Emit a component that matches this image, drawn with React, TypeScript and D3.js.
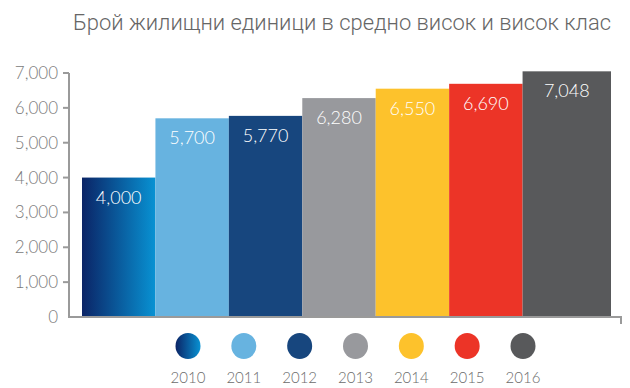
import React, { useEffect, useRef } from 'react';
import * as d3 from 'd3';

const title = 'Брой жилищни единици в средно висок и висок клас';
const years = ['2010', '2011', '2012', '2013', '2014', '2015', '2016'];
const values = [4000, 5700, 5770, 6280, 6550, 6690, 7048];
const colors = ['url(#grad2010)', '#67b3e0', '#17467e', '#98999d', '#fdc22c', '#ec3427', '#58595b'];
const yTicks = [0, 1000, 2000, 3000, 4000, 5000, 6000, 7000];

function App() {
  const svgRef = useRef<SVGSVGElement>(null);

  useEffect(() => {
    const svg = d3.select(svgRef.current);
    svg.selectAll('*').remove();

    const axisX = 69;
    const baseY = 317;
    const plotRight = 611;

    const defs = svg.append('defs');
    const grad = defs.append('linearGradient').attr('id', 'grad2010')
      .attr('x1', '0%').attr('x2', '100%').attr('y1', '0%').attr('y2', '0%');
    grad.append('stop').attr('offset', '0%').attr('stop-color', '#0b2466');
    grad.append('stop').attr('offset', '100%').attr('stop-color', '#0892d3');

    const y = d3.scaleLinear().domain([0, 7000]).range([baseY, 73]);
    const x = d3.scaleBand().domain(years).range([82, 596]).padding(0);

    // title
    svg.append('text')
      .attr('x', 73).attr('y', 30)
      .attr('font-family', 'Roboto').attr('font-weight', 300)
      .attr('font-size', 22).attr('fill', '#666')
      .attr('textLength', 538).attr('lengthAdjust', 'spacingAndGlyphs')
      .text(title);

    // bars
    const bars = svg.append('g');
    years.forEach((yr, i) => {
      const x0 = x(yr)!;
      const w = i === years.length - 1 ? plotRight - x0 : x.bandwidth();
      bars.append('rect')
        .attr('x', x0).attr('y', y(values[i]))
        .attr('width', w).attr('height', baseY - y(values[i]))
        .attr('fill', colors[i]);
      bars.append('text')
        .attr('x', x0 + w / 2).attr('y', y(values[i]) + 26)
        .attr('text-anchor', 'middle')
        .attr('font-family', 'Lato').attr('font-weight', 300).attr('font-size', 18)
        .attr('fill', '#fff')
        .text(d3.format(',')(values[i]));
    });

    // axes
    const ax = svg.append('g').attr('stroke', '#9a9a9a').attr('stroke-width', 2).attr('fill', 'none');
    ax.append('line').attr('x1', axisX).attr('x2', axisX).attr('y1', y(7000)).attr('y2', baseY);
    ax.append('path').attr('d', `M${axisX - 1},${baseY} H621 V324`);
    yTicks.forEach(t => {
      if (t > 0) ax.append('line').attr('x1', axisX - 6).attr('x2', axisX).attr('y1', y(t)).attr('y2', y(t));
      svg.append('text')
        .attr('x', 58).attr('y', y(t)).attr('dy', '0.35em')
        .attr('text-anchor', 'end')
        .attr('font-family', 'Lato').attr('font-weight', 300).attr('font-size', 17)
        .attr('fill', '#7a7a7a')
        .text(d3.format(',')(t));
    });

    // legend
    const lx = d3.scalePoint().domain(years).range([188, 523]);
    years.forEach((yr, i) => {
      svg.append('ellipse')
        .attr('cx', lx(yr)!).attr('cy', 346).attr('rx', 12.5).attr('ry', 13)
        .attr('fill', colors[i]);
      svg.append('text')
        .attr('x', lx(yr)!).attr('y', 383)
        .attr('text-anchor', 'middle')
        .attr('font-family', 'Lato').attr('font-weight', 300).attr('font-size', 15)
        .attr('fill', '#6b6b6b')
        .text(yr);
    });
  }, []);

  return (
    <svg ref={svgRef} width={630} height={388}
      style={{ position: 'absolute', left: 0, top: 0, background: '#fff' }} />
  );
}

export default App;
